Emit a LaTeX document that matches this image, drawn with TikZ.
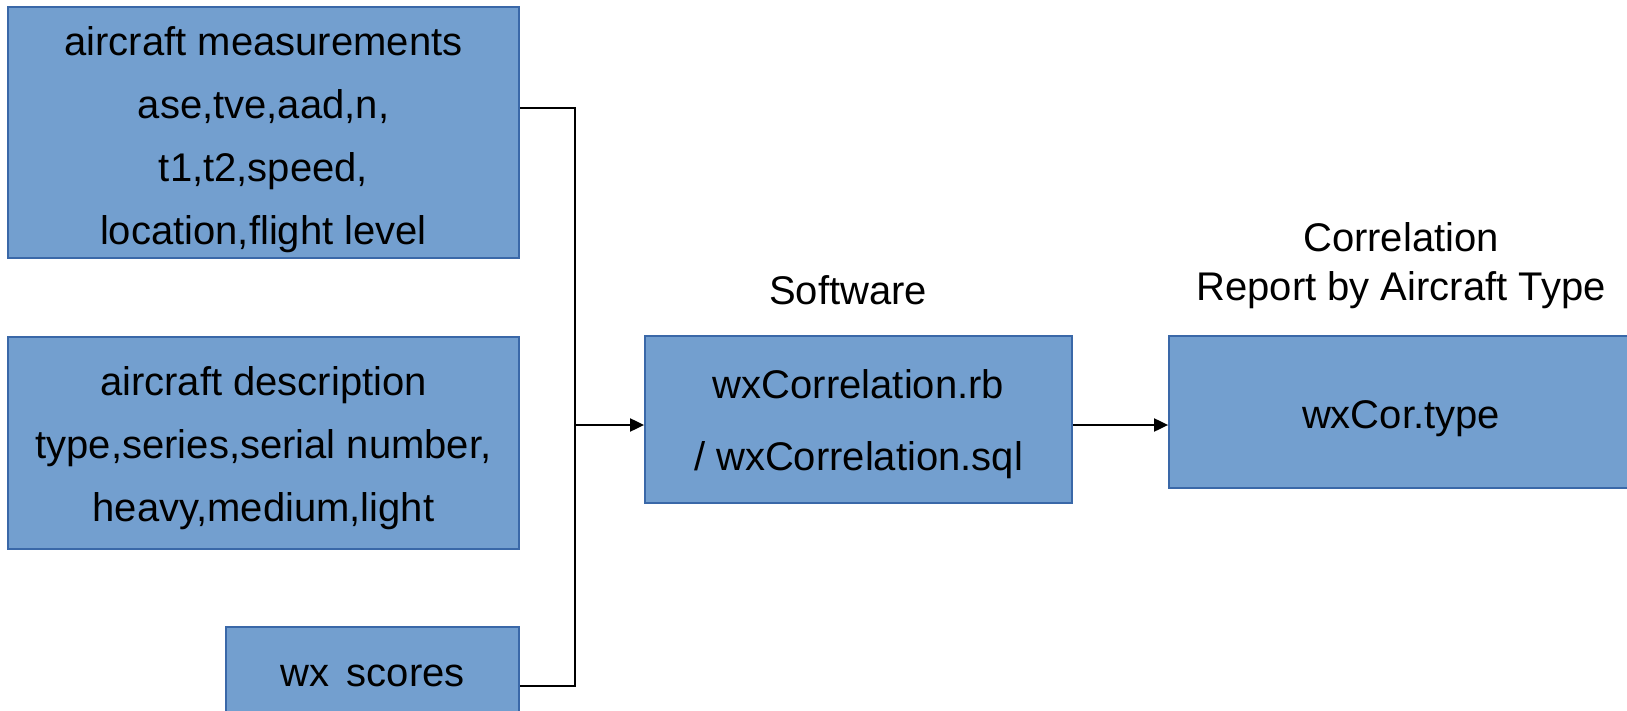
\documentclass[tikz,border=0pt]{standalone}
\usepackage{fontspec}
\setmainfont{Liberation Sans}
\usetikzlibrary{arrows.meta}
\definecolor{boxfill}{RGB}{115,159,207}
\definecolor{boxline}{RGB}{58,104,168}
\begin{document}
\begin{tikzpicture}[x=1pt,y=-1pt,
  box/.style={draw=boxline, line width=1.8pt, fill=boxfill, rectangle, inner sep=0pt},
  conn/.style={draw=black, line width=2pt},
  arr/.style={conn, -{Triangle[length=14pt,width=13pt]}},
  lbl/.style={align=center, inner sep=0pt}]
\useasboundingbox (0,0) rectangle (1627,711);
\begin{scope}
\clip (0,0) rectangle (1627,711);
\node[box, minimum width=511pt, minimum height=251pt] (meas) at (263.5,132.5) {};
\node[box, minimum width=511pt, minimum height=212pt] (desc) at (263.5,443) {};
\node[box, minimum width=293pt, minimum height=92pt] (wx) at (372.5,673) {};
\node[box, minimum width=427pt, minimum height=167pt] (sw) at (858.5,419.5) {};
\node[box, minimum width=464pt, minimum height=152pt] (rep) at (1401,412) {};
\end{scope}
\node[lbl, font=\fontsize{40}{63}\selectfont] (meast) at ([yshift=-7pt]meas.center)
  {aircraft measurements\\ase,tve,aad,n,\\t1,t2,speed,\\location,flight level};
\node[lbl, font=\fontsize{40}{63}\selectfont] (desct) at ([yshift=-5pt]desc.center)
  {aircraft description\\type,series,serial number,\\heavy,medium,light};
\node[lbl, font=\fontsize{40}{48}\selectfont] (wxt) at ([yshift=-3pt]wx.center)
  {wx\hspace{0.45em}scores};
\node[lbl, font=\fontsize{40}{72}\selectfont] (swt) at ([yshift=-5pt]sw.center)
  {wxCorrelation.rb\\/ wxCorrelation.sql};
\node[lbl, font=\fontsize{40}{48}\selectfont] (rept) at ([yshift=-7pt]rep.center)
  {wxCor.type};
\node[lbl, font=\fontsize{40}{48}\selectfont] (swl) at (848,290) {Software};
\node[lbl, font=\fontsize{40}{49}\selectfont] (repl) at (1401,266)
  {Correlation\\Report by Aircraft Type};
\coordinate (j1) at (575,108);
\coordinate (j2) at (575,686);
\coordinate (jm) at (575,425);
\draw[conn] (meas.east |- j1) -- (j1) -- (j2) -- (wx.east |- j2);
\draw[arr] (jm) -- (sw.west |- jm);
\draw[arr] (sw.east |- jm) -- (rep.west |- jm);
\end{tikzpicture}
\end{document}
